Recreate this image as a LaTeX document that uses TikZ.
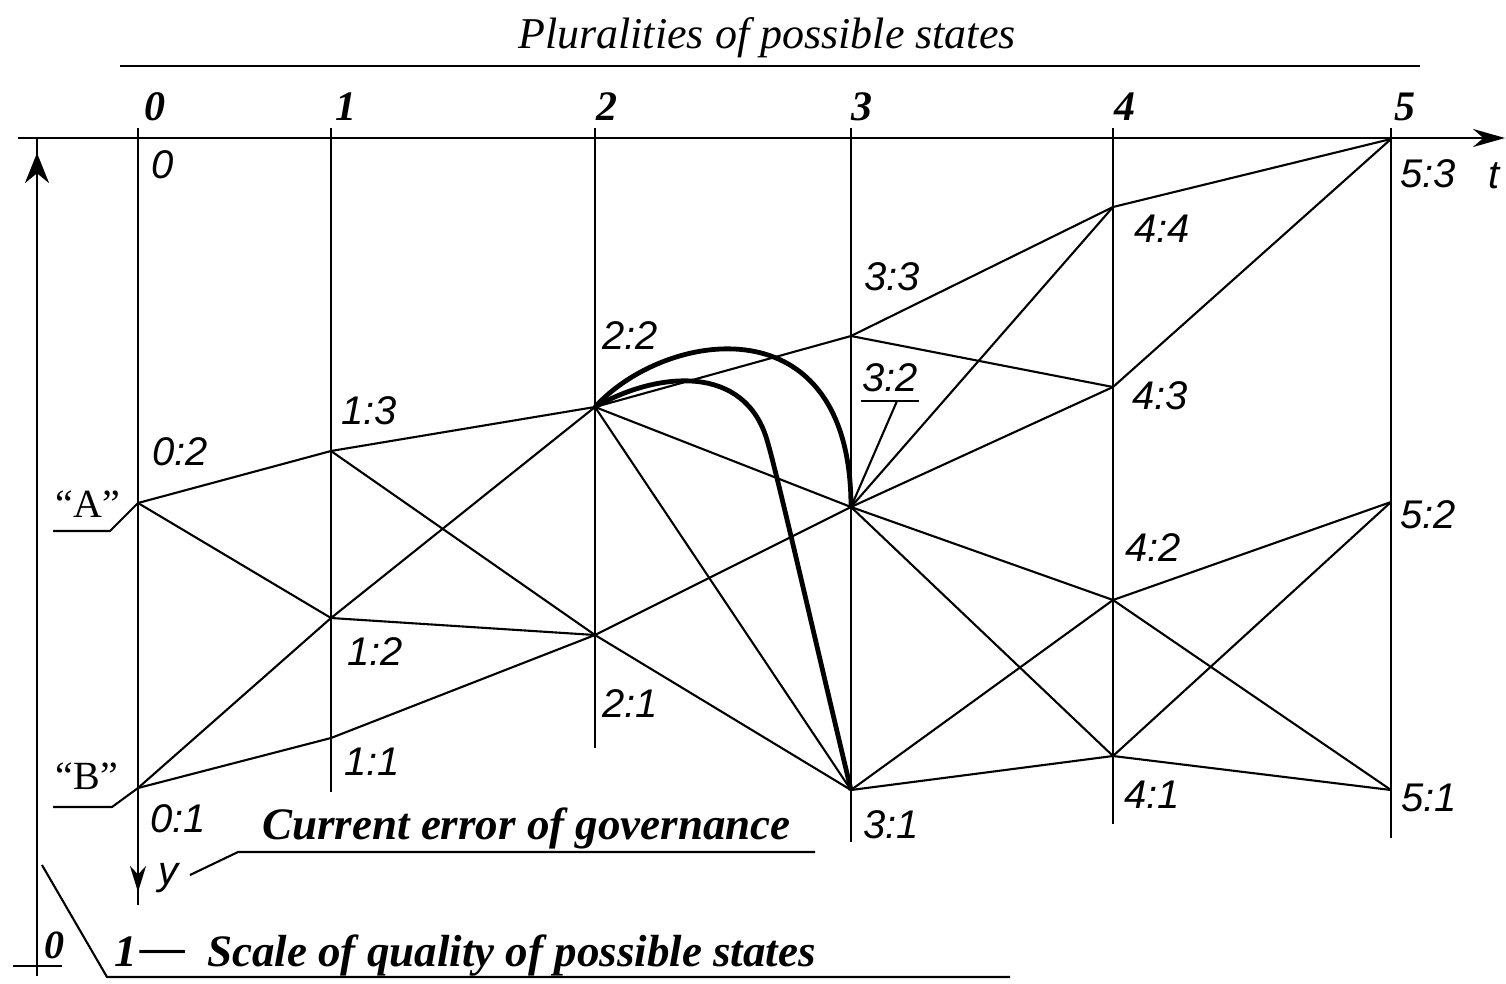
\documentclass[tikz,border=0pt]{standalone}
\usepackage{fontspec}
\setmainfont{Liberation Serif}
\newfontfamily\lblfont{Liberation Sans}
\usetikzlibrary{arrows.meta}
\begin{document}
\begin{tikzpicture}[x=1pt,y=-1pt,line join=round,
  edge/.style={line width=2.1pt},
  axisline/.style={line width=2.9pt},
  colline/.style={line width=2.7pt},
  boldcurve/.style={line width=4.8pt},
  lbl/.style={font=\lblfont\itshape\fontsize{40}{40}\selectfont,inner sep=0pt},
  colnum/.style={font=\bfseries\itshape\fontsize{42}{42}\selectfont,inner sep=0pt,anchor=base},
  caption/.style={font=\bfseries\itshape\fontsize{45}{45}\selectfont,inner sep=0pt,anchor=base west},
  quotelbl/.style={font=\fontsize{40}{40}\selectfont,inner sep=0pt},
]
\fill[white] (0,0) rectangle (1506,983);
\useasboundingbox (0,0) rectangle (1506,983);

% ---------- title ----------
\node[font=\itshape\fontsize{44}{44}\selectfont,inner sep=0pt,anchor=base] (title) at (767,48) {Pluralities of possible states};
\coordinate (tl1) at (120,66); \coordinate (tl2) at (1420,66);
\draw[line width=2.4pt] (tl1) -- (tl2);

% ---------- column numbers ----------
\node[colnum] (k0) at (155,120) {0};
\node[colnum] (k1) at (346,120) {1};
\node[colnum] (k2) at (607,120) {2};
\node[colnum] (k3) at (862,120) {3};
\node[colnum] (k4) at (1125,120) {4};
\node[colnum] (k5) at (1405,120) {5};

% ---------- axes ----------
\coordinate (tL) at (18,138); \coordinate (tR) at (1505,138);
\draw[axisline,-{Stealth[length=32pt,width=18pt]}] (tL) -- (tR);
\node[lbl] (tlab) at (1494,176) {t};

\coordinate (q0) at (37,976); \coordinate (qtop) at (37,138);
\coordinate (qa1) at (37,210); \coordinate (qa2) at (37,153);
\draw[axisline] (q0) -- (qtop);
\draw[axisline,-{Stealth[length=30pt,width=24pt]}] (qa1) -- (qa2);

% column lines
\coordinate (c0t) at (138,128); \coordinate (c0b) at (138,905);
\coordinate (c1t) at (331,128); \coordinate (c1b) at (331,792);
\coordinate (c2t) at (595,128); \coordinate (c2b) at (595,748);
\coordinate (c3t) at (851,128); \coordinate (c3b) at (851,842);
\coordinate (c4t) at (1113,128); \coordinate (c4b) at (1113,824);
\coordinate (c5t) at (1391,128); \coordinate (c5b) at (1391,838);
\foreach \i in {0,...,5} {\draw[colline] (c\i t) -- (c\i b);}
\coordinate (ya1) at (138,850); \coordinate (ya2) at (138,892);
\draw[colline,-{Stealth[length=26pt,width=16pt]}] (ya1) -- (ya2);

% ---------- state points ----------
\coordinate (s0)  at (138,138);
\coordinate (A)   at (138,503);
\coordinate (B)   at (138,788);
\coordinate (s13) at (331,451);
\coordinate (s12) at (331,618);
\coordinate (s11) at (331,738);
\coordinate (s22) at (595,407);
\coordinate (s21) at (595,635);
\coordinate (s33) at (851,336);
\coordinate (s32) at (851,507);
\coordinate (s31) at (851,790);
\coordinate (s44) at (1113,207);
\coordinate (s43) at (1113,387);
\coordinate (s42) at (1113,600);
\coordinate (s41) at (1113,756);
\coordinate (s53) at (1391,139);
\coordinate (s52) at (1391,502);
\coordinate (s51) at (1391,790);

% ---------- transitions ----------
\foreach \a/\b in {A/s13,A/s12,B/s12,B/s11,
  s13/s22,s13/s21,s12/s22,s12/s21,s11/s21,
  s22/s33,s22/s32,s22/s31,s21/s32,s21/s31,
  s33/s44,s33/s43,s32/s44,s32/s43,s32/s42,s32/s41,s31/s42,s31/s41,
  s44/s53,s43/s53,s42/s52,s42/s51,s41/s52,s41/s51}
  {\draw[edge] (\a) -- (\b);}

% ---------- bold trajectories ----------
\draw[boldcurve] (s22) .. controls (665,330) and (851,300) .. (s32);
\draw[boldcurve] (s22) .. controls (660,370) and (745,365) .. (767,440)
                       .. controls (778,477) and (815,640) .. (s31);

% ---------- state labels ----------
\node[lbl] (l0)  at (163,165) {0};
\node[lbl] (l02) at (180,452) {0:2};
\node[lbl] (l01) at (178,819) {0:1};
\node[lbl] (l13) at (369,411) {1:3};
\node[lbl] (l12) at (375,652) {1:2};
\node[lbl] (l11) at (372,762) {1:1};
\node[lbl] (l22) at (630,336) {2:2};
\node[lbl] (l21) at (630,704) {2:1};
\node[lbl] (l33) at (892,277) {3:3};
\node[lbl] (l32) at (890,378) {3:2};
\node[lbl] (l31) at (891,825) {3:1};
\node[lbl] (l44) at (1162,229) {4:4};
\node[lbl] (l43) at (1160,396) {4:3};
\node[lbl] (l42) at (1153,548) {4:2};
\node[lbl] (l41) at (1152,795) {4:1};
\node[lbl] (l53) at (1428,174) {5:3};
\node[lbl] (l52) at (1428,515) {5:2};
\node[lbl] (l51) at (1429,798) {5:1};

% 3:2 underline and leader
\coordinate (u1) at (861,401); \coordinate (u2) at (919,401); \coordinate (u3) at (897,401);
\draw[edge] (u1) -- (u2);
\draw[edge] (u3) -- (s32);

% ---------- "A" and "B" ----------
\node[quotelbl] (qa) at (88,504) {“A”};
\node[quotelbl] (qb) at (87,776) {“B”};
\coordinate (a1) at (53,531); \coordinate (a2) at (110,531);
\draw[edge] (a1) -- (a2) -- (A);
\coordinate (b1) at (53,807); \coordinate (b2) at (112,807);
\draw[edge] (b1) -- (b2) -- (B);

% ---------- y axis label and caption ----------
\node[lbl] (ylab) at (168,878) {y};
\node[caption] (cur) at (262,839) {Current error of governance};
\coordinate (e1) at (190,875); \coordinate (e2) at (238,852); \coordinate (e3) at (815,852);
\draw[edge] (e1) -- (e2) -- (e3);

% ---------- quality scale ----------
\node[font=\bfseries\itshape\fontsize{40}{40}\selectfont,inner sep=0pt,anchor=base] (zero) at (54,958) {0};
\coordinate (z1) at (13,966); \coordinate (z2) at (62,966);
\draw[edge] (z1) -- (z2);
\node[caption] (one) at (114,966) {1};
\node[caption] (dash) at (140,962) {—};
\node[caption] (scale) at (207,966) {Scale of quality of possible states};
\coordinate (d1) at (42,865); \coordinate (d2) at (107,977); \coordinate (d3) at (1010,977);
\draw[edge] (d1) -- (d2) -- (d3);
\end{tikzpicture}
\end{document}
